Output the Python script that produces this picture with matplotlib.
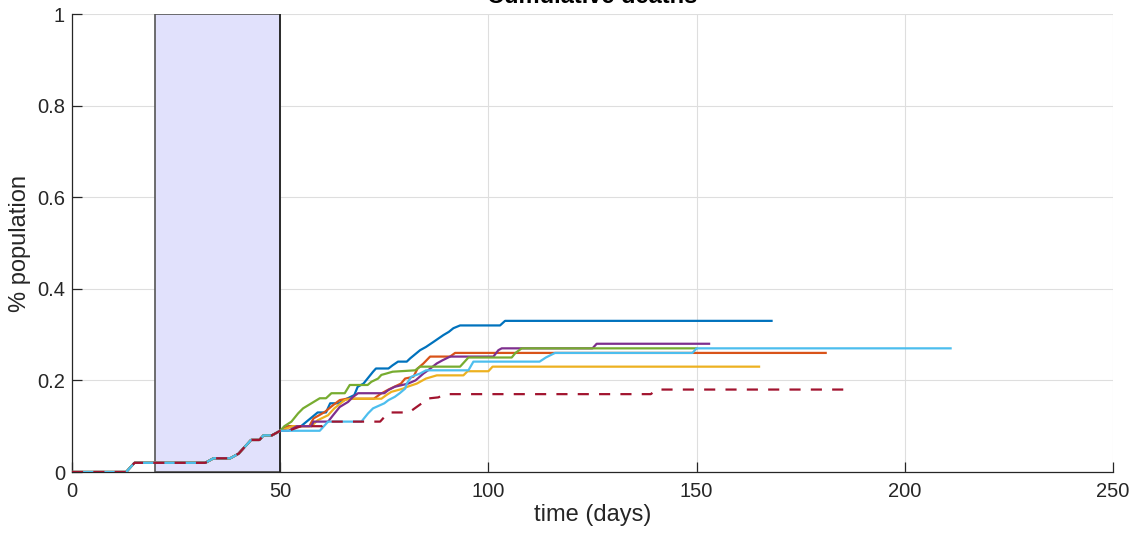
import matplotlib

matplotlib.use("Agg")
import matplotlib.pyplot as plt

plt.rcParams["font.family"] = ["Liberation Sans", "DejaVu Sans"]

# early epidemic phase, identical for every run
early_days = [0, 13, 15, 32, 34, 38, 40, 41, 42, 43, 45, 46, 48, 50]
early_vals = [0, 0, 0.02, 0.02, 0.03, 0.03, 0.04, 0.05, 0.06, 0.07, 0.07, 0.08, 0.08, 0.09]

# individual runs after day 50 (cumulative deaths, % population)
run1_days = [52, 55, 57, 59, 61, 62, 64, 66, 67.8, 68.6, 70, 72.3, 73, 76, 77, 78.3,
             80.4, 81.2, 83.6, 85, 86.8, 89.2, 90.5, 91.6, 93.2, 102.8, 104, 168]
run1_vals = [0.10, 0.10, 0.115, 0.13, 0.13, 0.15, 0.15, 0.16, 0.168, 0.186, 0.193, 0.219,
             0.226, 0.226, 0.233, 0.241, 0.241, 0.248, 0.266, 0.273, 0.284, 0.299, 0.306,
             0.314, 0.32, 0.32, 0.33, 0.33]

run2_days = [52, 57, 58, 60.7, 62.7, 64.3, 66, 72.5, 74, 76, 79, 80, 82, 83, 84.4, 86,
             90.8, 92, 181]
run2_vals = [0.10, 0.10, 0.117, 0.131, 0.146, 0.157, 0.16, 0.16, 0.17, 0.18, 0.193, 0.204,
             0.208, 0.226, 0.237, 0.252, 0.252, 0.26, 0.26]

run3_days = [53, 57.5, 59, 61.5, 63, 65.5, 67, 74.3, 75.5, 76.7, 79.5, 80.5, 82.8, 85,
             87.6, 94, 95, 100, 101, 165]
run3_vals = [0.10, 0.10, 0.113, 0.124, 0.139, 0.157, 0.16, 0.16, 0.168, 0.175, 0.182,
             0.186, 0.193, 0.204, 0.211, 0.211, 0.22, 0.22, 0.23, 0.23]

run4_days = [52, 54, 57.5, 58, 61.5, 62.7, 64.3, 66.3, 67.5, 68.7, 75, 76, 77.5, 80.7,
             82.5, 84.4, 85.5, 87.6, 89, 90.8, 101.2, 102.4, 103.2, 125, 126, 153]
run4_vals = [0.09, 0.10, 0.10, 0.11, 0.11, 0.124, 0.142, 0.153, 0.164, 0.172, 0.172, 0.179,
             0.186, 0.193, 0.20, 0.215, 0.222, 0.237, 0.244, 0.252, 0.252, 0.266, 0.27,
             0.27, 0.28, 0.28]

run5_days = [51, 52.7, 54.3, 55.5, 57.5, 59.5, 61, 62.3, 65.5, 66.7, 71, 71.9, 73.5, 74.3,
             75.5, 77, 82.4, 83.6, 93.2, 95.2, 105.6, 106.5, 108, 150]
run5_vals = [0.10, 0.11, 0.128, 0.139, 0.15, 0.161, 0.161, 0.172, 0.172, 0.19, 0.19, 0.197,
             0.204, 0.212, 0.215, 0.219, 0.222, 0.23, 0.23, 0.25, 0.25, 0.26, 0.27, 0.27]

run6_days = [59.5, 61.5, 69.5, 71.1, 72.3, 75, 76, 77.5, 78.7, 80, 80.4, 81.5, 83.6, 85,
             95.2, 96.4, 112.3, 113.8, 116, 149, 150, 211]
run6_vals = [0.09, 0.11, 0.11, 0.128, 0.139, 0.15, 0.157, 0.164, 0.172, 0.182, 0.193,
             0.208, 0.215, 0.222, 0.222, 0.241, 0.241, 0.25, 0.26, 0.26, 0.27, 0.27]

# reference scenario (dashed)
ref_days = [52, 55, 60, 62, 74, 76, 81, 82, 84, 85, 88, 89.5, 139, 140.4, 186]
ref_vals = [0.09, 0.10, 0.10, 0.11, 0.11, 0.13, 0.13, 0.137, 0.15, 0.16, 0.163, 0.17,
            0.17, 0.18, 0.18]

runs = [(run1_days, run1_vals), (run2_days, run2_vals), (run3_days, run3_vals),
        (run4_days, run4_vals), (run5_days, run5_vals), (run6_days, run6_vals)]
colors = ["#0072BD", "#D95319", "#EDB120", "#7E2F8E", "#77AC30", "#4DBEEE"]
REF_COLOR = "#A2142F"

# intervention window (days)
window_start, window_end = 20, 50

TXT = "#262626"

fig = plt.figure(figsize=(11.44, 5.39), dpi=100)
ax = fig.add_axes([72 / 1144, 1 - 472 / 539, (1113 - 72) / 1144, (472 - 14) / 539])

ax.axvspan(window_start, window_end, facecolor="#e1e1fc", edgecolor="#555555", lw=1.2, zorder=1)
ax.axvline(window_end, color="#222222", lw=1.2, zorder=1.1)

for (d, v), c in zip(runs, colors):
    ax.plot(early_days + d, early_vals + v, color=c, lw=1.6, zorder=3)
ax.plot(early_days + ref_days, early_vals + ref_vals, color=REF_COLOR, lw=1.6,
        ls=(0, (5, 4.6)), zorder=3)

ax.set_xlim(0, 250)
ax.set_ylim(0, 1)
ax.set_xticks([0, 50, 100, 150, 200, 250])
ax.set_yticks([0, 0.2, 0.4, 0.6, 0.8, 1])
ax.set_yticklabels(["0", "0.2", "0.4", "0.6", "0.8", "1"])
ax.grid(True, color="#dedede", lw=0.8)
ax.set_axisbelow(True)
for s in ("top", "right"):
    ax.spines[s].set_visible(False)
for s in ("left", "bottom"):
    ax.spines[s].set_color(TXT)
    ax.spines[s].set_linewidth(0.9)
ax.tick_params(direction="in", length=7, width=0.9, colors=TXT, labelsize=14.5)
ax.tick_params(axis="x", pad=7)
ax.tick_params(axis="y", pad=5)

ax.set_xlabel("time (days)", fontsize=17, color=TXT, labelpad=2)
ax.set_ylabel("% population", fontsize=17, color=TXT, labelpad=4)
# title sits right at the top edge of the canvas
fig.text(592.5 / 1144, 1 - 3 / 539, "Cumulative deaths", ha="center", va="baseline",
         fontsize=17, fontweight="bold", color="#000000")

fig.savefig("out.png", dpi=100)
